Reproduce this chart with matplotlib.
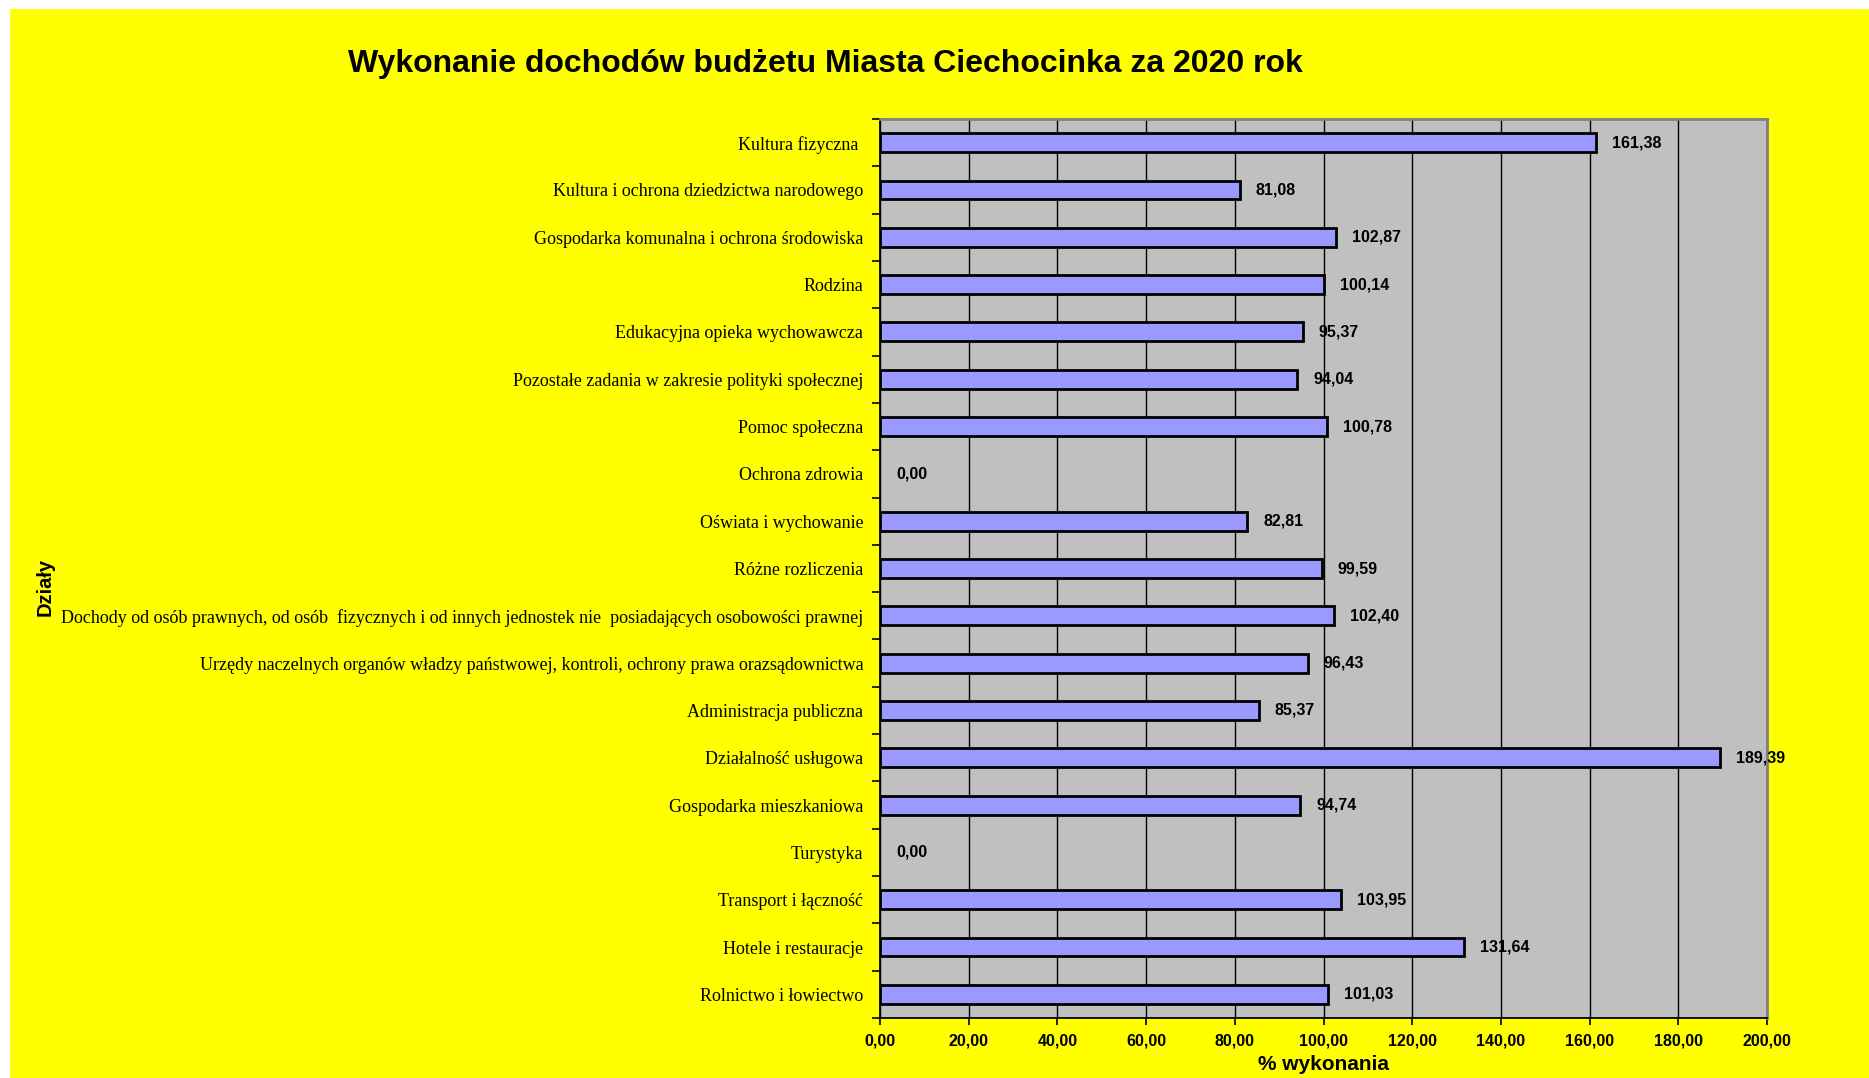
import matplotlib
matplotlib.use("Agg")
import matplotlib.pyplot as plt
from matplotlib.patches import Rectangle
from matplotlib.ticker import FixedLocator, FuncFormatter

# categories top to bottom as in the chart
categories = [
    "Kultura fizyczna ",
    "Kultura i ochrona dziedzictwa narodowego",
    "Gospodarka komunalna i ochrona środowiska",
    "Rodzina",
    "Edukacyjna opieka wychowawcza",
    "Pozostałe zadania w zakresie polityki społecznej",
    "Pomoc społeczna",
    "Ochrona zdrowia",
    "Oświata i wychowanie",
    "Różne rozliczenia",
    "Dochody od osób prawnych, od osób  fizycznych i od innych jednostek nie  posiadających osobowości prawnej",
    "Urzędy naczelnych organów władzy państwowej, kontroli, ochrony prawa orazsądownictwa",
    "Administracja publiczna",
    "Działalność usługowa",
    "Gospodarka mieszkaniowa",
    "Turystyka",
    "Transport i łączność",
    "Hotele i restauracje",
    "Rolnictwo i łowiectwo",
]
values = [161.38, 81.08, 102.87, 100.14, 95.37, 94.04, 100.78, 0.00, 82.81,
          99.59, 102.40, 96.43, 85.37, 189.39, 94.74, 0.00, 103.95, 131.64,
          101.03]
x_ticks = [0, 20, 40, 60, 80, 100, 120, 140, 160, 180, 200]

W, H = 1869, 1078
fig = plt.figure(figsize=(W / 100, H / 100), dpi=100, facecolor="white")
fig.patches.append(Rectangle((10 / W, 0), 1 - 10 / W, 1 - 9 / H,
                             transform=fig.transFigure, facecolor="#FFFF00",
                             edgecolor="none", zorder=-10))

ax = fig.add_axes([880 / W, 1 - 1018 / H, (1767 - 880) / W, (1018 - 119) / H])
ax.set_facecolor("#C0C0C0")

n = len(categories)
ypos = list(range(n))
edges = ["black" if v > 0 else "none" for v in values]
ax.barh(ypos, values, height=0.4, color="#9999FF", edgecolor=edges,
        linewidth=2, zorder=3)
ax.set_ylim(n - 0.5, -0.5)
ax.set_xlim(0, 200)

for y, v in zip(ypos, values):
    ax.annotate(f"{v:.2f}".replace(".", ","), (v, y), xytext=(11.5, 0),
                textcoords="offset points", va="center", ha="left",
                fontsize=11.5, fontweight="bold", family="Liberation Sans",
                zorder=4)

ax.set_yticks(ypos)
ax.set_yticklabels(categories, family="Liberation Serif", fontsize=13)
ax.yaxis.set_minor_locator(FixedLocator([i - 0.5 for i in range(n + 1)]))
ax.tick_params(axis="y", which="major", length=0, pad=12)
ax.tick_params(axis="y", which="minor", length=6, width=1.2, direction="out")

ax.xaxis.set_major_locator(FixedLocator(x_ticks))
ax.xaxis.set_major_formatter(FuncFormatter(lambda v, p: f"{v:.2f}".replace(".", ",")))
ax.tick_params(axis="x", length=5, width=1.2, pad=6)
for lab in ax.get_xticklabels():
    lab.set_fontweight("bold")
    lab.set_family("Liberation Sans")
    lab.set_fontsize(11.5)

ax.grid(axis="x", color="black", linewidth=1, zorder=1)
ax.set_axisbelow(True)
for side in ("top", "right"):
    ax.spines[side].set_color("#808080")
    ax.spines[side].set_linewidth(2)
for side in ("left", "bottom"):
    ax.spines[side].set_color("black")
    ax.spines[side].set_linewidth(1.3)

ax.set_xlabel("% wykonania", fontsize=15, fontweight="bold",
              family="Liberation Sans", labelpad=5)
fig.text(45 / W, 1 - 587 / H, "Działy", rotation=90, ha="center", va="center",
         fontsize=14.5, fontweight="bold", family="Liberation Sans")
fig.text(825 / W, 1 - 64 / H,
         "Wykonanie dochodów budżetu Miasta Ciechocinka za 2020 rok",
         ha="center", va="center", fontsize=23, fontweight="bold",
         family="Liberation Sans")

fig.savefig("out.png", dpi=100, facecolor=fig.get_facecolor())
